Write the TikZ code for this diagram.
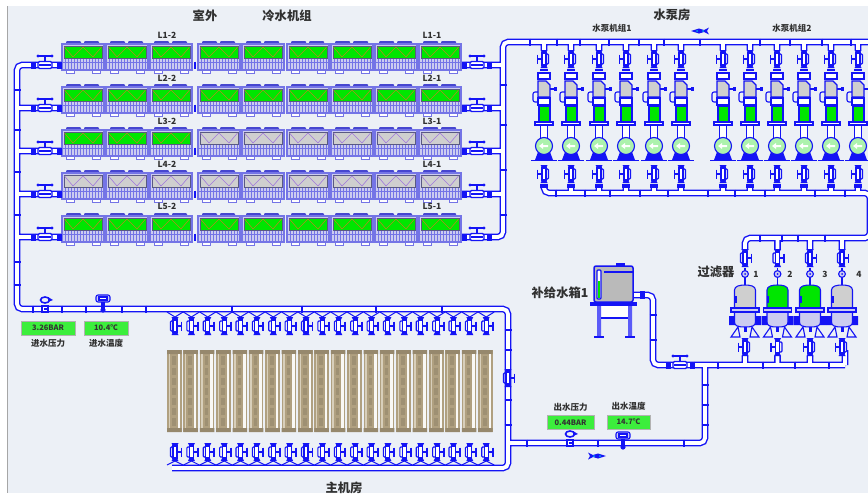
\documentclass[tikz,border=0pt]{standalone}
\usepackage{fontspec}
\setmainfont{Noto Sans CJK SC}
\usetikzlibrary{positioning,calc}
\definecolor{panelbg}{HTML}{ECF0F6}
\definecolor{pipeblue}{HTML}{1414F5}
\definecolor{unitedge}{HTML}{7474E6}
\definecolor{unitbody}{HTML}{CCCCF0}
\definecolor{fanblue}{HTML}{4646D0}
\definecolor{runon}{HTML}{00E600}
\definecolor{runoff}{HTML}{CFCFCF}
\definecolor{zigon}{HTML}{B08A20}
\definecolor{zigoff}{HTML}{A078DC}
\definecolor{tan1}{HTML}{B0A080}
\definecolor{tan2}{HTML}{D8CFBB}
\definecolor{txtdark}{HTML}{303030}
\definecolor{valuegreen}{HTML}{3CEE3C}
\tikzset{
	pipe/.style = {draw=pipeblue, line width=1.4pt, double=white, double distance=3.8pt, rounded corners=5pt},
	flange/.style = {draw=pipeblue, line width=2.8pt},
	block/.style = {draw=pipeblue, line width=5pt},
	valveline/.style = {draw=pipeblue, line width=1.1pt},
	valvebar/.style = {draw=pipeblue, line width=1.9pt},
	bigtxt/.style = {inner sep=0pt, text=txtdark, font=\fontsize{12.3}{14}\selectfont\bfseries},
	midtxt/.style = {inner sep=0pt, text=txtdark, font=\fontsize{8.5}{10}\selectfont\bfseries},
	valuebox/.style = {draw=black!30, fill=valuegreen, inner sep=0pt, minimum height=14pt, text=black!80, font=\fontsize{7.5}{9}\selectfont\bfseries}
}
% one chiller, top left corner at #1,#2
\newcommand{\chiller}[4]{
	\begin{scope}[shift={(#1,#2)}]
		\fill[fanblue, rounded corners=1pt] (4,0) rectangle (19,3.5) (22,0) rectangle (37,3.5);
		\draw[unitedge, fill=white] (4,28) rectangle (12,32) (30,28) rectangle (38,32);
		\draw[unitedge, line width=1.1pt, fill=unitbody] (0,3) rectangle (42,29);
		\draw[black!45!blue!30!gray, line width=.8pt, fill=#3] (2,5) rectangle (40,17);
		\draw[#4, line width=.6pt] (2.5,6) -- (11,16) -- (21,6) -- (31,16) -- (39.5,6);
		\foreach \g in {3,6,...,39} \draw[unitedge, line width=.6pt] (\g,18) -- (\g,28);
		\draw[unitedge, line width=.6pt] (1,21) -- (41,21);
	\end{scope}
}
% upright valve with its handle on the side given by #3
\newcommand{\valveV}[3]{
	\begin{scope}[shift={(#1,#2)}, xscale=#3]
		\fill[pipeblue] (-3.5,-9) -- (3.5,-9) -- (2,-6) -- (-2,-6) -- cycle;
		\fill[pipeblue] (-3.5,9) -- (3.5,9) -- (2,6) -- (-2,6) -- cycle;
		\draw[valveline, fill=white] (-2,-6) rectangle (2,6);
		\draw[valveline, rounded corners=1pt] (-2,-5) -| (-4.5,5) -- (-2,5);
		\draw[valveline] (2,0) -- (6.5,0);
		\draw[valvebar] (6.5,-4.5) -- (6.5,4.5);
	\end{scope}
}
% valve on a level pipe with the wheel on top
\newcommand{\valveH}[2]{
	\begin{scope}[shift={(#1,#2)}]
		\draw[valveline, fill=white, rounded corners=1.5pt] (-7,-3.5) rectangle (7,3.5);
		\fill[pipeblue] (-6,-1) rectangle (6,1);
		\draw[valvebar] (0,-3) -- (0,-9);
		\draw[valvebar] (-7,-9) -- (7,-9);
		\fill[pipeblue] (-7,-9) circle (1.6) (7,-9) circle (1.6);
	\end{scope}
}
\newcommand{\pumpunit}[1]{
	\begin{scope}[shift={(#1,0)}]
		\valveV{0}{59}{-1}
		\fill[pipeblue] (-4,69) rectangle (4,71);
		\draw[valveline, fill=white] (-6,73) rectangle (6,79);
		\draw[valveline, fill=runoff] (-6,97) -- (-6,81) -- (2,81) -- (6,85) -- (6,97) -- cycle;
		\draw[valveline] (6,89) -- (12,89);
		\fill[pipeblue] (10,87) rectangle (13,91);
		\draw[valveline, rounded corners=2pt] (-6,92) -- (-11,92) -- (-11,102) -- (-6,102);
		\draw[valveline, fill=white] (-6,98) rectangle (6,105);
		\draw[valveline, fill=runon] (-5,106) rectangle (6,122);
		\draw[valveline, fill=white] (-9,122) rectangle (9,125);
		\draw[valveline, fill=white] (-3.5,125) rectangle (3.5,139);
		\fill[pipeblue] (-9,160) -- (-6,152) -- (6,152) -- (9,160) -- cycle;
		\fill[pipeblue] (-13,159.5) rectangle (13,161);
		\draw[valveline, fill=green!30!white!90!gray] (0,146) circle (8.5);
		\fill[white] (-5,146) -- (-1,143) -- (-1,145) -- (4,145) -- (4,147) -- (-1,147) -- (-1,149) -- cycle;
		\valveV{0}{174}{-1}
		\fill[pipeblue] (-4,184) rectangle (4,188);
	\end{scope}
}
\newcommand{\filterunit}[2]{
	\begin{scope}[shift={(#1,0)}]
		\valveV{0}{258}{1}
		\draw[valveline] (0,268) -- (0,285);
		\draw[valveline, fill=unitbody] (0,274) circle (3.4);
		\fill[pipeblue] (0,274) circle (1);
		\draw[valveline, fill=#2] (-10.5,308) -- (-10.5,290) .. controls (-10.5,286) and (-5,285) .. (0,285) .. controls (5,285) and (10.5,286) .. (10.5,290) -- (10.5,308) -- cycle;
		\fill[pipeblue] (-11,296) rectangle (-8.5,303);
		\fill[pipeblue] (-16,316) rectangle (-10,325) (10,316) rectangle (16,325);
		\draw[valveline, fill=unitbody] (-10.5,312) -- (-10.5,322) .. controls (-10.5,326) and (-7,327) .. (0,327) .. controls (7,327) and (10.5,326) .. (10.5,322) -- (10.5,312) -- cycle;
		\draw[valveline, fill=unitbody] (-14,308) rectangle (14,312);
		\draw[valveline] (-7,327) -- (-14,337) -- (-5,337) -- cycle (7,327) -- (14,337) -- (5,337) -- cycle;
		\fill[pipeblue] (-1.5,327) rectangle (1.5,332);
		\valveV{0}{347}{-1}
	\end{scope}
}
\newcommand{\gaugeP}[2]{
	\begin{scope}[shift={(#1,#2)}]
		\draw[pipeblue, line width=1.6pt] (0,0) ellipse (4.5 and 3);
		\fill[pipeblue] (3,-3) -- (8,0) -- (3,2) -- cycle;
		\draw[valveline, fill=white] (-3,6) rectangle (3,12);
		\fill[pipeblue] (-1.5,8) rectangle (1.5,10);
	\end{scope}
}
\newcommand{\gaugeT}[2]{
	\begin{scope}[shift={(#1,#2)}]
		\draw[valveline, fill=unitbody, rounded corners=2pt] (-7,-4) rectangle (7,3);
		\draw[valveline, fill=white] (-4,-2) rectangle (4,1);
		\fill[pipeblue] (-1.8,3) rectangle (1.8,11);
		\fill[pipeblue] (0,11) circle (2.6);
	\end{scope}
}
\newcommand{\flowarrow}[3]{
	\begin{scope}[shift={(#1,#2)}, xscale=#3]
		\fill[pipeblue] (-9,0) -- (-1,-2.5) -- (4,-1) -- (9,-3.5) -- (7,0) -- (9,3.5) -- (4,1) -- (-1,2.5) -- cycle;
		\fill[cyan] (-3,0) circle (1) (3,0) circle (1);
	\end{scope}
}
\begin{document}
\begin{tikzpicture}[x=1pt,y=-1pt]
	\useasboundingbox (0,0) rectangle (868,493);
	\fill[panelbg] (8,6) rectangle (868,493);
	\draw[gray!70, line width=1.2pt] (7.5,6) -- (7.5,493);
	% named points of the pipe runs
	\foreach \r/\y in {1/65,2/108,3/151,4/194,5/237} {
		\coordinate (inL\r) at (17,\y);
		\coordinate (inC\r) at (62,\y);
		\coordinate (outC\r) at (461,\y);
		\coordinate (outR\r) at (503,\y);
	}
	\coordinate (mainCorner) at (17,309);
	\coordinate (mainTR) at (508,309);
	\coordinate (mainBR) at (508,468);
	\coordinate (mainBL) at (172,468);
	\coordinate (outJoin) at (508,443);
	\coordinate (outBend) at (705,443);
	\coordinate (filterT) at (705,365);
	\coordinate (filterEnd) at (845,365);
	\coordinate (filterDown) at (845,350);
	\coordinate (tankOut) at (634,295);
	\coordinate (tankBend) at (653,295);
	\coordinate (tankLow) at (653,365);
	\coordinate (pumpTopL) at (503,42);
	\coordinate (pumpTopR) at (868,42);
	\coordinate (pumpLowL) at (544,193);
	\coordinate (pumpLowR) at (870,193);
	\coordinate (filterTopR) at (870,238);
	\coordinate (filterTopL) at (745,238);
	\coordinate (filterIn) at (745,250);
	\draw[pipe] (inC1) -- (inL1) -- (mainCorner) -- (mainTR) -- (mainBR) -- (mainBL)
		(inL2) -- (inC2) (inL3) -- (inC3) (inL4) -- (inC4) (inL5) -- (inC5)
		(outC5) -- (outR5) -- (pumpTopL) -- (pumpTopR)
		(outC1) -- (outR1) (outC2) -- (outR2) (outC3) -- (outR3) (outC4) -- (outR4)
		(outJoin) -- (outBend) -- (filterT)
		(filterEnd) -- (filterDown) (filterEnd) -- (tankLow) -- (tankBend) -- (tankOut)
		(filterIn) -- (filterTopL) -- (filterTopR) -- (pumpLowR) -- (pumpLowL) -- (544,186)
		\foreach \x in {571,599,626,654,681,723,750,777,804,831,858} { (\x,193) -- (\x,186) (\x,42) -- (\x,50) }
		(544,42) -- (544,50)
		\foreach \x in {777.5,810,842} { (\x,238) -- (\x,250) }
		\foreach \x in {745,777.5,810} { (\x,365) -- (\x,356) };
	% chillers, rows and the ones that run
	\foreach \r/\y/\leftfill/\leftzig/\rightfill/\rightzig in {1/41/runon/zigon/runon/zigon,2/84/runon/zigon/runon/zigon,3/127/runon/zigon/runoff/zigoff,4/170/runoff/zigoff/runoff/zigoff,5/213/runon/zigon/runon/zigon} {
		\foreach \x in {62,106,150} \chiller{\x}{\y}{\leftfill}{\leftzig};
		\foreach \x in {198,242,287,331,375,419} \chiller{\x}{\y}{\rightfill}{\rightzig};
	}
	% valves and flanges on the rows
	\foreach \y in {65,108,151,194,237} {
		\draw[block] (33,\y-3.5) -- (33,\y+3.5);
		\draw[block] (59,\y-3.5) -- (59,\y+3.5);
		\draw[flange] (195,\y-3.5) -- (195,\y+3.5);
		\draw[block] (464,\y-3.5) -- (464,\y+3.5);
		\draw[block] (489,\y-3.5) -- (489,\y+3.5);
		\valveH{45}{\y}
		\valveH{477}{\y}
	}
	\foreach \y in {90,130,172,215,262,285} \draw[flange] (13.5,\y) -- (20.5,\y);
	\foreach \y in {85,125,170,215} \draw[flange] (499.5,\y) -- (506.5,\y);
	\foreach \x in {33,62,86,122,146,232,302,376,442} \draw[flange] (\x,305.5) -- (\x,312.5);
	\foreach \y in {330,350,400,425} \draw[flange] (504.5,\y) -- (511.5,\y);
	\foreach \x in {530,557,580,609,639,664,700,760,790,822,851} \draw[flange] (\x,38.5) -- (\x,45.5);
	\foreach \x in {556,585,610,640,668,708,735,765,815,845} \draw[flange] (\x,189.5) -- (\x,196.5);
	\foreach \x in {760,782,798,825} \draw[flange] (\x,234.5) -- (\x,241.5);
	\foreach \x in {718,763,795,829} \draw[flange] (\x,361.5) -- (\x,368.5);
	\foreach \x in {527,598,684} \draw[flange] (\x,439.5) -- (\x,446.5);
	\foreach \y in {385,405,425} \draw[flange] (701.5,\y) -- (708.5,\y);
	\foreach \y in {315,340} \draw[flange] (649.5,\y) -- (656.5,\y);
	% pump sets
	\foreach \x in {544,571,599,626,654,681,723,750,777,804,831,858} \pumpunit{\x};
	% filters
	\filterunit{745}{runoff}
	\filterunit{777.5}{runon}
	\filterunit{810}{runon}
	\filterunit{842}{runoff}
	% make up tank
	\fill[white] (601,306) rectangle (628,318);
	\fill[pipeblue!70] (597,306) rectangle (601,337) (628,306) rectangle (632,337);
	\draw[valvebar] (601,318) -- (628,318);
	\draw[valvebar] (594,337) -- (604,337) (625,337) -- (635,337);
	\fill[pipeblue] (590,302) rectangle (637,306);
	\fill[pipeblue] (616,263) rectangle (625,266);
	\draw[pipeblue, line width=1.5pt, fill=black!27, rounded corners=2pt] (594,266) rectangle (633,302);
	\draw[valvebar] (604,272) -- (633,272);
	\draw[valveline, fill=white, rounded corners=1pt] (597,270) rectangle (601,299);
	\fill[runon] (598,281) rectangle (600,298);
	\draw[block] (642,291) -- (642,299);
	\valveH{680}{365}
	\draw[block] (668,361.5) -- (668,368.5);
	\draw[block] (692,361.5) -- (692,368.5);
	% main room heat exchangers
	\foreach \i in {0,...,19} {
		\begin{scope}[shift={(167+16.38*\i,0)}]
			\fill[tan1] (0,350) rectangle (14.5,432);
			\fill[tan1!85!black] (0,350) rectangle (14.5,354) (0,428) rectangle (14.5,432);
			\fill[tan2] (1.5,354) rectangle (3,428);
			\fill[white!85!tan2] (10.5,354) rectangle (13,428);
			\fill[tan1!90!black] (5,356) rectangle (8.5,426);
			\foreach \d in {365,375,...,415} \fill[tan1] (5,\d) rectangle (8.5,\d+3);
		\end{scope}
		\valveV{175+16.38*\i}{326}{1}
		\valveV{175+16.38*\i}{452}{1}
		\draw[pipeblue, line width=1pt] (167+16.38*\i,312) -- (175+16.38*\i,317) -- (183+16.38*\i,312);
		\draw[pipeblue, line width=1pt] (167+16.38*\i,465) -- (175+16.38*\i,461) -- (183+16.38*\i,465);
	}
	\valveV{508}{378}{1}
	% meters
	\gaugeP{45}{300}
	\gaugeT{103}{299}
	\gaugeP{570}{434}
	\gaugeT{623}{436}
	\flowarrow{700}{31}{1}
	\flowarrow{597}{456}{-1}
	% labels
	\node[bigtxt] (outdoor) at (205,16) {室外};
	\node[bigtxt] (chillers) at (287,16) {冷水机组};
	\node[bigtxt] (pumproom) at (672,15) {水泵房};
	\node[midtxt] (pumpsA) at (612,28) {水泵机组1};
	\node[midtxt] (pumpsB) at (792,28) {水泵机组2};
	\foreach \r/\y in {1/35,2/78,3/121,4/164,5/206} {
		\node[midtxt] (row\r b) at (167,\y) {L\r-2};
		\node[midtxt] (row\r a) at (432,\y) {L\r-1};
	}
	\node[bigtxt] (filters) at (716,272) {过滤器};
	\foreach \n/\x in {1/756,2/790,3/825,4/859} \node[midtxt] (fnum\n) at (\x,274) {\n};
	\node[bigtxt] (tanklbl) at (560,293) {补给水箱1};
	\node[bigtxt] (mainroom) at (344,488) {主机房};
	\node[valuebox, minimum width=54pt] (inP) at (48,328) {3.26BAR};
	\node[valuebox, minimum width=44pt] (inT) at (106,328) {10.4℃};
	\node[midtxt, below=3.5pt of inP] (inPlbl) {进水压力};
	\node[midtxt, below=3.5pt of inT] (inTlbl) {进水温度};
	\node[valuebox, minimum width=47pt] (outP) at (570.5,422.5) {0.44BAR};
	\node[valuebox, minimum width=43pt] (outT) at (628.5,422) {14.7℃};
	\node[midtxt, above=4pt of outP] (outPlbl) {出水压力};
	\node[midtxt, above=4pt of outT] (outTlbl) {出水温度};
\end{tikzpicture}
\end{document}
